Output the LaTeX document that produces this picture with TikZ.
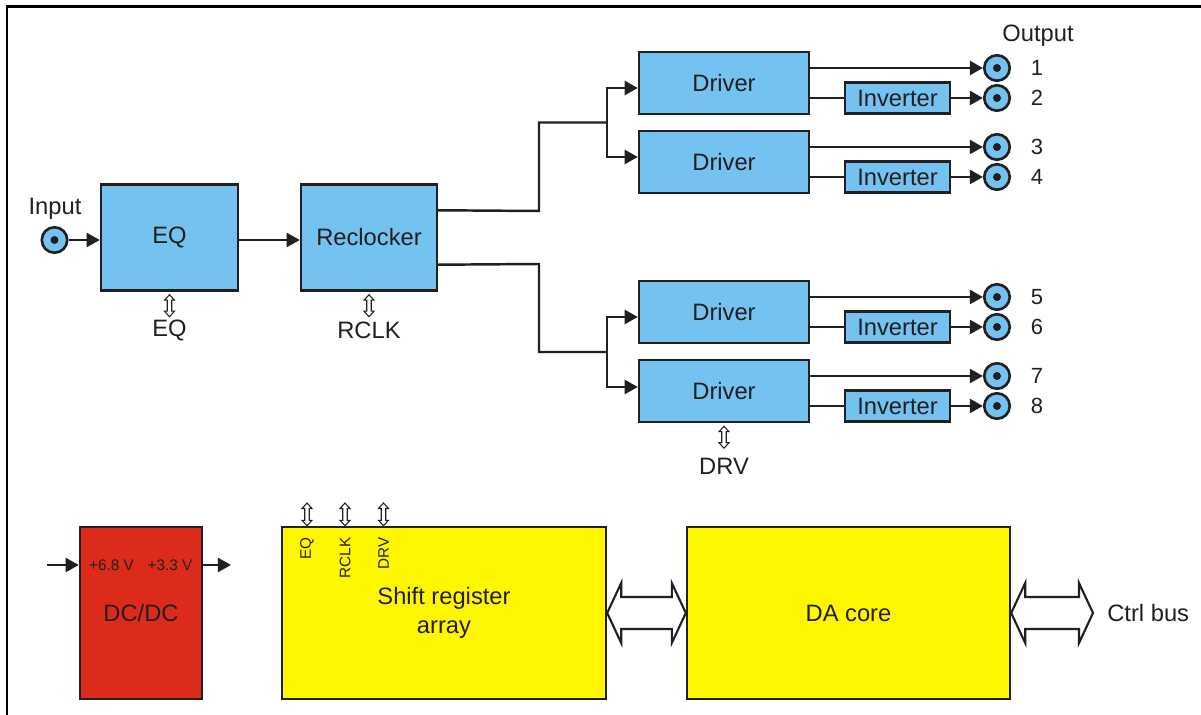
\documentclass[tikz,border=0pt]{standalone}
\usepackage{fontspec}
\setmainfont{Liberation Sans}
\usetikzlibrary{arrows.meta,calc}
\definecolor{bluef}{RGB}{115,194,240}
\definecolor{redf}{RGB}{220,43,26}
\definecolor{yelf}{RGB}{255,246,0}
\definecolor{ink}{RGB}{35,31,32}
\begin{document}
\begin{tikzpicture}[x=0.02cm,y=-0.02cm,
  ln/.style={draw=ink, line width=1.4pt},
  arr/.style={ln, -{Triangle[length=7.5pt,width=8pt]}},
  lbl/.style={font=\fontsize{13.5}{16.5}\selectfont, text=ink, inner sep=0pt},
  numlbl/.style={font=\fontsize{12.5}{15}\selectfont, text=ink, inner sep=0pt},
  smalllbl/.style={font=\fontsize{8.7}{10}\selectfont, text=ink, inner sep=0pt},
  box/.style={draw=ink, line width=1.4pt, inner sep=0pt, align=center,
    font=\fontsize{13.5}{16.5}\selectfont, text=ink},
  blk/.style={box, fill=bluef},
  drv/.style={blk, minimum width=3.4cm, minimum height=1.24cm},
  inv/.style={blk, minimum width=2.1cm, minimum height=0.62cm},
  jack/.style={circle, draw=ink, line width=1.5pt, fill=bluef, minimum size=0.51cm, inner sep=0pt,
    path picture={\fill[ink] (path picture bounding box.center) circle (0.08cm);}},
  bus/.style={draw=ink, line width=1.2pt, fill=white, to path={
    let \p1=(\tikztostart), \p2=(\tikztotarget) in
    (\x1,\y1) -- ({\x1+0.28cm},{\y1+0.6cm}) -- ({\x1+0.28cm},{\y1+0.32cm})
    -- ({\x2-0.28cm},{\y1+0.32cm}) -- ({\x2-0.28cm},{\y1+0.6cm}) -- (\x2,\y1)
    -- ({\x2-0.28cm},{\y1-0.6cm}) -- ({\x2-0.28cm},{\y1-0.32cm})
    -- ({\x1+0.28cm},{\y1-0.32cm}) -- ({\x1+0.28cm},{\y1-0.6cm}) -- cycle}},
  vbus/.style={draw=ink, line width=0.6pt, fill=white, to path={
    let \p1=(\tikztostart), \p2=(\tikztotarget) in
    (\x1,\y1) -- ({\x1+0.1cm},{\y1-0.11cm}) -- ({\x1+0.045cm},{\y1-0.11cm})
    -- ({\x1+0.045cm},{\y2+0.11cm}) -- ({\x1+0.1cm},{\y2+0.11cm}) -- (\x1,\y2)
    -- ({\x1-0.1cm},{\y2+0.11cm}) -- ({\x1-0.045cm},{\y2+0.11cm})
    -- ({\x1-0.045cm},{\y1-0.11cm}) -- ({\x1-0.1cm},{\y1-0.11cm}) -- cycle}}
]
\useasboundingbox (0,0) rectangle (1201,715);
% frame
\draw[black, line width=1.7pt] (7,715) -- (7,6.5) -- (1201,6.5);

% input chain
\node[jack] (in) at (54.5,240) {};
\node[lbl] (inlbl) at (55,209) {Input};
\node[blk, minimum width=2.74cm, minimum height=2.12cm] (eq) at (169.5,237.5) {EQ};
\node[blk, minimum width=2.72cm, minimum height=2.12cm] (rc) at (369,237.5) {Reclocker};
\draw[arr] (in.east) -- (eq.west |- in);
\draw[arr] (eq.east |- in) -- (rc.west |- in);

\coordinate (eqc1) at ($(eq.south)+(0,3)$);
\coordinate (eqc2) at ($(eq.south)+(0,25)$);
\draw[vbus] (eqc1) to (eqc2);
\node[lbl] (eqlbl) at (169.5,330) {EQ};
\coordinate (rcc1) at ($(rc.south)+(0,3)$);
\coordinate (rcc2) at ($(rc.south)+(0,25)$);
\draw[vbus] (rcc1) to (rcc2);
\node[lbl] (rclbl) at (369,330) {RCLK};

% drivers
\node[drv] (d1) at (724,83) {Driver};
\node[drv] (d2) at (724,162) {Driver};
\node[drv] (d3) at (724,312) {Driver};
\node[drv] (d4) at (724,391) {Driver};
\node[inv] (i1) at (897.5,98) {Inverter};
\node[inv] (i2) at (897.5,177) {Inverter};
\node[inv] (i3) at (897.5,327) {Inverter};
\node[inv] (i4) at (897.5,406) {Inverter};

\foreach \n/\y in {1/68,2/98,3/147,4/177,5/297,6/327,7/376,8/406}{
  \node[jack] (o\n) at (997,\y) {};
  \node[numlbl] (n\n) at (1037,\y) {\n};
}
\node[lbl] (outlbl) at (1038,36) {Output};

\draw[arr] (o1 -| d1.east) -- (o1.west);
\draw[arr] (o3 -| d2.east) -- (o3.west);
\draw[arr] (o5 -| d3.east) -- (o5.west);
\draw[arr] (o7 -| d4.east) -- (o7.west);
\draw[ln] (i1 -| d1.east) -- (i1.west);
\draw[ln] (i2 -| d2.east) -- (i2.west);
\draw[ln] (i3 -| d3.east) -- (i3.west);
\draw[ln] (i4 -| d4.east) -- (i4.west);
\draw[arr] (i1.east) -- (o2.west);
\draw[arr] (i2.east) -- (o4.west);
\draw[arr] (i3.east) -- (o6.west);
\draw[arr] (i4.east) -- (o8.west);

% splitting
\coordinate (r1) at ($(rc.north east)+(0,27)$);
\coordinate (r2) at ($(rc.south east)+(0,-27)$);
\coordinate (ja) at (607,122.5);
\coordinate (jb) at (607,352);
\draw[ln] (r1) -- (539,211) |- (ja);
\draw[ln] (r2) -- (539,264) |- (jb);
\draw[arr] (ja) |- ($(d1.west)+(0,5)$);
\draw[arr] (ja) |- ($(d2.west)+(0,-5)$);
\draw[arr] (jb) |- ($(d3.west)+(0,5)$);
\draw[arr] (jb) |- ($(d4.west)+(0,-4)$);

\coordinate (dv1) at ($(d4.south)+(0,3)$);
\coordinate (dv2) at ($(d4.south)+(0,25)$);
\draw[vbus] (dv1) to (dv2);
\node[lbl] (drvlbl) at (724,466) {DRV};

% bottom section
\node[box, fill=redf, minimum width=2.44cm, minimum height=3.44cm] (dc) at (141,613) {DC/DC};
\node[smalllbl] (v1) at (111.5,565) {+6.8 V};
\node[smalllbl] (v2) at (170,565) {+3.3 V};
\coordinate (dcin) at (47,565);
\coordinate (dcout) at (231,565);
\draw[arr] (dcin) -- (dc.west |- dcin);
\draw[arr] (dc.east |- dcout) -- (dcout);

\node[box, fill=yelf, minimum width=6.48cm, minimum height=3.44cm] (sr) at (444,613) {Shift register\\array};
\node[box, fill=yelf, minimum width=6.46cm, minimum height=3.44cm] (da) at (848.5,613) {DA core};

\foreach \k/\x/\t in {a/307/EQ,b/345/RCLK,c/383.5/DRV}{
  \coordinate (tt\k) at (\x,503);
  \draw[vbus] (tt\k) to (tt\k |- sr.north);
  \node[smalllbl, rotate=90, anchor=east] (tl\k) at (\x,537) {\t};
}

\draw[bus] (sr.east) to (da.west);
\coordinate (cb) at (1093,613);
\draw[bus] (da.east) to (cb);
\node[lbl, anchor=west] (ctrl) at (1107,613) {Ctrl bus};
\end{tikzpicture}
\end{document}
